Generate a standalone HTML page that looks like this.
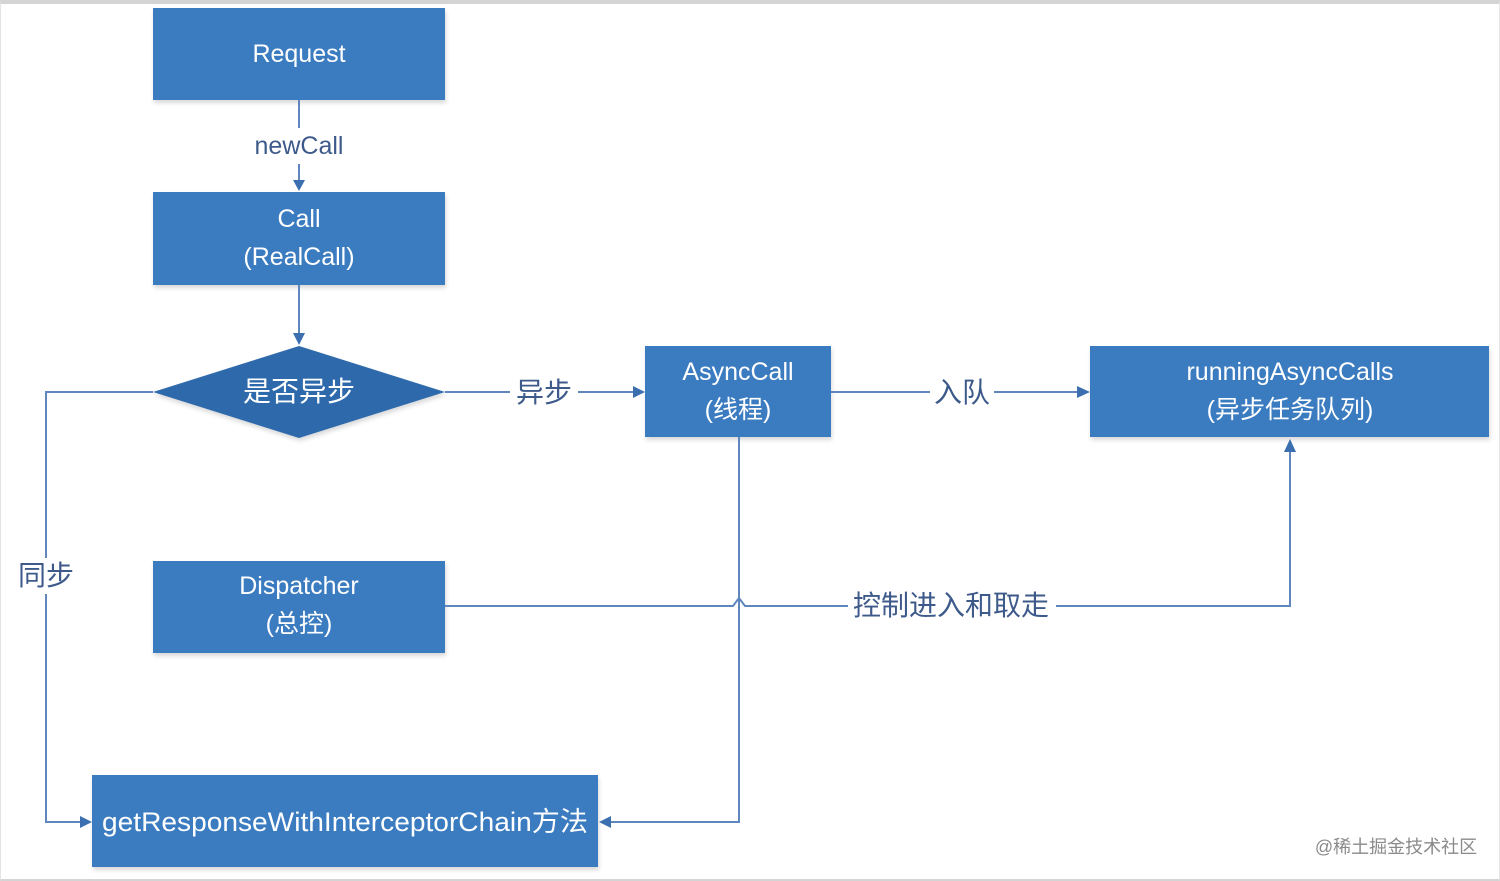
<!DOCTYPE html>
<html><head><meta charset="utf-8"><style>
html,body{margin:0;padding:0;background:#fff}
body{width:1500px;height:881px;position:relative;overflow:hidden;font-family:"Liberation Sans","Noto Sans CJK SC",sans-serif}
.frame{position:absolute;left:0;top:0;width:1498px;height:875px;border-top:4px solid #d4d4d4;border-bottom:2px solid #d4d4d4;border-left:1px solid #e4e4e4;border-right:1px solid #e4e4e4}
</style></head><body>
<div class="frame"></div>
<svg width="1500" height="881" style="position:absolute;left:0;top:0" font-family="Liberation Sans, Noto Sans CJK SC, sans-serif">
<defs>
<filter id="sh" x="-5%" y="-5%" width="110%" height="115%"><feDropShadow dx="1" dy="3" stdDeviation="2" flood-color="#000" flood-opacity="0.15"/></filter>
</defs>
<g fill="#3b7bc0" filter="url(#sh)">
<rect x="153" y="8" width="292" height="92"/>
<rect x="153" y="192" width="292" height="93"/>
<rect x="645" y="346" width="186" height="91"/>
<rect x="1090" y="346" width="399" height="91"/>
<rect x="153" y="561" width="292" height="92"/>
<rect x="92" y="775" width="506" height="92"/>
<polygon points="153,392 299,346 445,392 299,438" fill="#2f6aab"/>
</g>
<g stroke="#5f86bd" stroke-width="2" fill="none">
<line x1="299" y1="100" x2="299" y2="128"/>
<line x1="299" y1="164" x2="299" y2="182"/>
<line x1="299" y1="285" x2="299" y2="336"/>
<polyline points="445,392 510,392"/>
<polyline points="578,392 635,392"/>
<polyline points="831,392 930,392"/>
<polyline points="994,392 1080,392"/>
<polyline points="153,392 46,392 46,558"/>
<polyline points="46,594 46,822 82,822"/>
<polyline points="739,437 739,822 608,822"/>
<polyline points="445,606 733,606 739,598 745,606 848,606"/>
<polyline points="1056,606 1290,606 1290,452"/>
</g>
<g fill="#3b6fb0">
<polygon points="293,180 305,180 299,191"/>
<polygon points="293,333 305,333 299,345"/>
<polygon points="633,386 633,398 645,392"/>
<polygon points="1077,386 1077,398 1090,392"/>
<polygon points="1284,452 1296,452 1290,439"/>
<polygon points="80,816 80,828 92,822"/>
<polygon points="611,816 611,828 599,822"/>
</g>
<g fill="#fff" text-anchor="middle" font-size="25">
<text x="299" y="62">Request</text>
<text x="299" y="227">Call</text>
<text x="299" y="265">(RealCall)</text>
<text x="299" y="401" font-size="28">是否异步</text>
<text x="738" y="380">AsyncCall</text>
<text x="738" y="418">(线程)</text>
<text x="1290" y="380">runningAsyncCalls</text>
<text x="1290" y="418">(异步任务队列)</text>
<text x="299" y="594">Dispatcher</text>
<text x="299" y="632">(总控)</text>
<text x="345" y="831" font-size="27" textLength="486" lengthAdjust="spacingAndGlyphs">getResponseWithInterceptorChain方法</text>
</g>
<g fill="#3d5a8a" text-anchor="middle" font-size="25">
<text x="299" y="154">newCall</text>
<text x="544" y="402" font-size="28">异步</text>
<text x="962" y="402" font-size="28">入队</text>
<text x="46" y="585" font-size="28">同步</text>
<text x="951" y="615" font-size="28">控制进入和取走</text>
</g>
<text x="1396" y="853" text-anchor="middle" font-size="18" fill="#8a8a8a">@稀土掘金技术社区</text>
</svg>
</body></html>
